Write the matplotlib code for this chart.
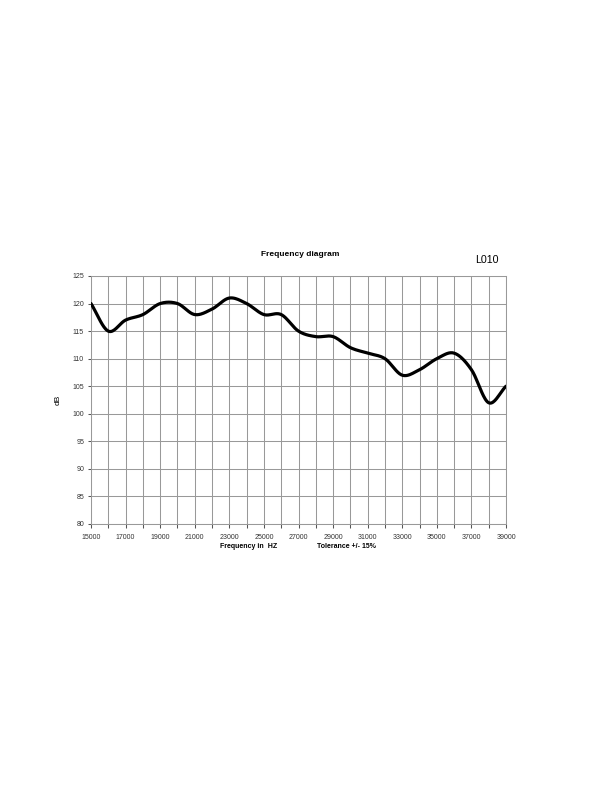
import numpy as np
import matplotlib
matplotlib.use('Agg')
import matplotlib.pyplot as plt

plt.rcParams['font.family'] = ['Liberation Sans', 'DejaVu Sans']

freq = [15000, 16000, 17000, 18000, 19000, 20000, 21000, 22000, 23000, 24000,
        25000, 26000, 27000, 28000, 29000, 30000, 31000, 32000, 33000, 34000,
        35000, 36000, 37000, 38000, 39000]
db = [120, 115, 117, 118, 120, 120, 118, 119, 121, 120,
      118, 118, 115, 114, 114, 112, 111, 110, 107, 108,
      110, 111, 108, 102, 105]


def smooth(x, y, n=20):
    # Catmull-Rom curve through the points, like a spreadsheet "smoothed line"
    x = np.asarray(x, float)
    y = np.asarray(y, float)
    px = np.concatenate([[2 * x[0] - x[1]], x, [2 * x[-1] - x[-2]]])
    py = np.concatenate([[2 * y[0] - y[1]], y, [2 * y[-1] - y[-2]]])
    xs, ys = [], []
    t = np.linspace(0, 1, n, endpoint=False)
    for i in range(1, len(px) - 2):
        for p, out in ((px, xs), (py, ys)):
            p0, p1, p2, p3 = p[i - 1], p[i], p[i + 1], p[i + 2]
            out.extend(0.5 * (2 * p1 + (-p0 + p2) * t
                              + (2 * p0 - 5 * p1 + 4 * p2 - p3) * t ** 2
                              + (-p0 + 3 * p1 - 3 * p2 + p3) * t ** 3))
    xs.append(x[-1])
    ys.append(y[-1])
    return np.array(xs), np.array(ys)


fig = plt.figure(figsize=(6, 8), dpi=100)
ax = fig.add_axes([91 / 600, 1 - 524 / 800, 415 / 600, 248 / 800])

sx, sy = smooth(freq, db)
ax.plot(sx, sy, color='black', linewidth=2.3, solid_capstyle='round', zorder=3)

ax.set_xlim(15000, 39000)
ax.set_ylim(80, 125)
ax.set_xticks(range(15000, 39001, 2000))
ax.set_xticks(range(15000, 39001, 1000), minor=True)
ax.set_yticks(range(80, 126, 5))
ax.grid(True, which='both', color='#999999', linewidth=0.75)
ax.tick_params(axis='both', which='both', labelsize=5, colors='#555555',
               labelcolor='#333333', length=3, width=0.75, direction='out', pad=4)
ax.tick_params(axis='y', which='both', length=2, pad=3)
for s in ax.spines.values():
    s.set_color('#999999')
    s.set_linewidth(0.75)

fig.text(300 / 600, 1 - 255 / 800, 'Frequency diagram', ha='center', va='center',
         fontsize=6, fontweight='bold')
fig.text(487 / 600, 1 - 260 / 800, 'L010', ha='center', va='center', fontsize=7.7)
fig.text(58 / 600, 1 - 400 / 800, 'dB', ha='center', va='center', fontsize=6,
         rotation=90)
fig.text(249 / 600, 1 - 547 / 800, 'Frequency in  HZ', ha='center', va='center',
         fontsize=5, fontweight='bold')
fig.text(346 / 600, 1 - 547 / 800, 'Tolerance +/- 15%', ha='center', va='center',
         fontsize=5, fontweight='bold')

fig.savefig('out.png', dpi=100)
